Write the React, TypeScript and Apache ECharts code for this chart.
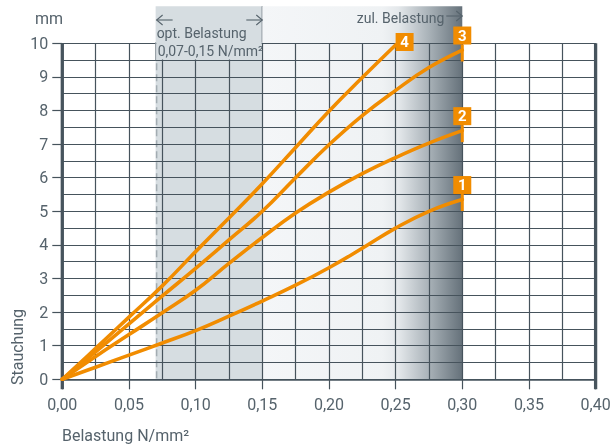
import React, { useEffect, useRef } from "react";
import * as echarts from "echarts";

// Belastung (N/mm²) vs. Stauchung (mm)
const curve1: number[][] = [[0, 0], [0.025, 0.36], [0.05, 0.72], [0.075, 1.08], [0.1, 1.45], [0.125, 1.88], [0.15, 2.33], [0.175, 2.8], [0.2, 3.32], [0.225, 3.9], [0.25, 4.5], [0.275, 5.0], [0.3, 5.35]];
const curve2: number[][] = [[0, 0], [0.025, 0.68], [0.05, 1.33], [0.075, 1.98], [0.1, 2.65], [0.125, 3.45], [0.15, 4.22], [0.175, 4.95], [0.2, 5.57], [0.225, 6.12], [0.25, 6.6], [0.275, 7.03], [0.3, 7.4]];
const curve3: number[][] = [[0, 0], [0.025, 0.82], [0.05, 1.65], [0.075, 2.48], [0.1, 3.3], [0.125, 4.15], [0.15, 5.0], [0.175, 6.0], [0.2, 6.98], [0.225, 7.85], [0.25, 8.6], [0.275, 9.28], [0.3, 9.8]];
const curve4: number[][] = [[0, 0], [0.025, 0.92], [0.05, 1.85], [0.075, 2.78], [0.1, 3.8], [0.125, 4.8], [0.15, 5.82], [0.175, 6.9], [0.2, 7.98], [0.225, 8.98], [0.25, 9.95]];
const curves = [curve1, curve2, curve3, curve4];
const curveLabels = ["1", "2", "3", "4"];

const optZone = [0.07, 0.15];
const allowZone = [0.15, 0.3];
const X_MIN = 0;
const X_MAX = 0.4;
const X_INTERVAL = 0.05;
const Y_MIN = 0;
const Y_MAX = 10;
const Y_INTERVAL = 1;

const optTitle = "opt. Belastung";
const optRange = "0,07-0,15 N/mm²";
const allowTitle = "zul. Belastung";
const yUnit = "mm";
const yName = "Stauchung";
const xName = "Belastung N/mm²";

const ORANGE = "#f18c00";
const GRID = "#46535c";
const TEXT = "#56636c";
const OPT_FILL = "#d6dde1";
const FONT = "Roboto, 'DejaVu Sans', sans-serif";

export default function App() {
  const ref = useRef<HTMLDivElement>(null);
  useEffect(() => {
    const chart = echarts.init(ref.current!, null, { renderer: "svg" });
    const fmt = (v: number) => v.toFixed(2).replace(".", ",");
    const gradient = new echarts.graphic.LinearGradient(0, 0, 1, 0, [
      { offset: 0, color: "#f4f6f8" },
      { offset: 0.6, color: "#eff2f4" },
      { offset: 0.68, color: "#e4e8eb" },
      { offset: 0.83, color: "#aab3b9" },
      { offset: 1, color: "#65717a" },
    ]);
    const series: any[] = [
      {
        type: "custom",
        name: "zones",
        z: -1,
        silent: true,
        clip: false,
        data: [
          [optZone[0], optZone[1], 0],
          [allowZone[0], allowZone[1], 1],
        ],
        renderItem: (_p: any, api: any) => {
          const x0 = api.value(0);
          const x1 = api.value(1);
          const kind = api.value(2);
          const tl = api.coord([x0, Y_MAX]);
          const br = api.coord([x1, Y_MIN]);
          const top = tl[1] - 37;
          const children: any[] = [
            {
              type: "rect",
              shape: { x: tl[0], y: top, width: br[0] - tl[0], height: br[1] - top },
              style: { fill: kind === 0 ? OPT_FILL : gradient },
            },
          ];
          if (kind === 0) {
            children.push({
              type: "line",
              shape: { x1: tl[0] + 1, y1: tl[1] + 20, x2: tl[0] + 1, y2: br[1] },
              style: { stroke: "#a3acb2", lineWidth: 1.5, lineDash: [7, 4] },
            });
            children.push({
              type: "line",
              shape: { x1: br[0], y1: top, x2: br[0], y2: tl[1] },
              style: { stroke: "#5d6972", lineWidth: 1.2 },
            });
          }
          return { type: "group", children };
        },
      },
      {
        type: "custom",
        name: "frame",
        z: 3,
        silent: true,
        clip: false,
        data: [[X_MIN, 0], [X_MAX, 0]],
        renderItem: (_p: any, api: any) => {
          const a = api.coord([api.value(0), Y_MAX]);
          const b = api.coord([api.value(0), Y_MIN]);
          return {
            type: "line",
            shape: { x1: a[0], y1: a[1], x2: b[0], y2: b[1] + 10 },
            style: { stroke: "#47545d", lineWidth: 3.3 },
          };
        },
      },
    ];
    curves.forEach((c, i) => {
      const last = c[c.length - 1];
      const isTop = i === 3;
      const mp: any[] = [];
      if (!isTop) {
        mp.push({
          coord: last,
          symbol: "rect",
          symbolSize: [3, 17],
          symbolOffset: [0, 3],
          itemStyle: { color: ORANGE },
          label: { show: false },
        });
      }
      mp.push({
        coord: last,
        symbol: "rect",
        symbolSize: [18, 18],
        symbolOffset: isTop ? [9, -3] : [0, -14.5],
        itemStyle: { color: ORANGE },
        label: {
          show: true,
          position: "inside",
          formatter: curveLabels[i],
          color: "#fff",
          fontWeight: "bold",
          fontSize: 15,
          fontFamily: FONT,
        },
      });
      series.push({
        type: "line",
        name: curveLabels[i],
        data: c,
        smooth: 0.45,
        showSymbol: false,
        z: 4,
        lineStyle: { color: ORANGE, width: 3.6, cap: "round" },
        itemStyle: { color: ORANGE },
        markPoint: { silent: true, data: mp, animation: false },
      });
    });

    const option: any = {
      animation: false,
      grid: { left: 62.3, right: 18.4, top: 43.3, bottom: 68.7, containLabel: false, outerBoundsMode: "none" },
      xAxis: {
        type: "value",
        min: X_MIN,
        max: X_MAX,
        interval: X_INTERVAL,
        axisLine: { show: true, lineStyle: { color: GRID, width: 1.5 } },
        axisTick: { show: true, length: 10, inside: false, lineStyle: { color: GRID, width: 1.2 } },
        axisLabel: { margin: 17, fontSize: 16, color: TEXT, fontFamily: FONT, formatter: fmt, showMinLabel: true, showMaxLabel: true },
        splitLine: { show: true, lineStyle: { color: GRID, width: 1.2 } },
        minorTick: { show: false, splitNumber: 2 },
        minorSplitLine: { show: true, lineStyle: { color: GRID, width: 1.2 } },
      },
      yAxis: {
        type: "value",
        min: Y_MIN,
        max: Y_MAX,
        interval: Y_INTERVAL,
        axisLine: { show: false },
        axisTick: { show: true, length: 10, inside: false, lineStyle: { color: GRID, width: 1.2 } },
        axisLabel: { margin: 14, fontSize: 16, color: TEXT, fontFamily: FONT },
        splitLine: { show: true, lineStyle: { color: GRID, width: 1.2 } },
        minorTick: { show: false, splitNumber: 2 },
        minorSplitLine: { show: true, lineStyle: { color: GRID, width: 1.2 } },
      },
      series,
    };
    chart.setOption(option);

    const px = (x: number, y: number) => chart.convertToPixel({ gridIndex: 0 }, [x, y]) as number[];
    const optL = px(optZone[0], Y_MAX);
    const optR = px(optZone[1], Y_MAX);
    const optHalf = px(optZone[1], Y_MAX - Y_INTERVAL / 2);
    const allowR = px(allowZone[1], Y_MAX);
    const arrow = (xTip: number, y: number, dir: number, len: number) => [
      { type: "line", shape: { x1: xTip, y1: y, x2: xTip - dir * len, y2: y }, style: { stroke: TEXT, lineWidth: 1.1 }, z: 10 },
      {
        type: "polyline",
        shape: { points: [[xTip - dir * 6, y - 5], [xTip, y], [xTip - dir * 6, y + 5]] },
        style: { stroke: TEXT, lineWidth: 1.1, fill: "none" },
        z: 10,
      },
    ];
    const txt = (text: string, x: number, y: number, size: number, align: string, extra: any = {}) => ({
      type: "text",
      x,
      y,
      z: 10,
      style: { text, fill: TEXT, fontSize: size, fontFamily: FONT, align, verticalAlign: "middle" },
      ...extra,
    });
    chart.setOption({
      graphic: [
        {
          type: "rect",
          z: 8,
          shape: { x: optL[0] + 0.6, y: optL[1] - 1, width: optR[0] - optL[0] - 1.2, height: optHalf[1] - optL[1] + 0.4 },
          style: { fill: OPT_FILL },
        },
        {
          type: "line",
          z: 9,
          shape: { x1: optL[0], y1: optL[1] - 1, x2: optL[0], y2: optHalf[1] },
          style: { stroke: "#8d979e", lineWidth: 1 },
        },
        txt(yUnit, 35, 18, 16, "left"),
        txt(yName, 17.5, 347, 16, "center", { rotation: Math.PI / 2 }),
        txt(xName, 62, 435, 16, "left"),
        txt(optTitle, optL[0] + 1, 32.5, 14, "left"),
        txt(optRange, optL[0] + 2, 51, 14, "left"),
        txt(allowTitle, allowR[0] - 18, 17.5, 14, "right"),
        ...arrow(optL[0] + 1, 20, -1, 16),
        ...arrow(optR[0], 20, 1, 16),
        ...arrow(allowR[0], 16, 1, 16),
      ],
    });
    return () => chart.dispose();
  }, []);
  return <div ref={ref} style={{ position: "fixed", left: 0, top: 0, width: 614, height: 448 }} />;
}
